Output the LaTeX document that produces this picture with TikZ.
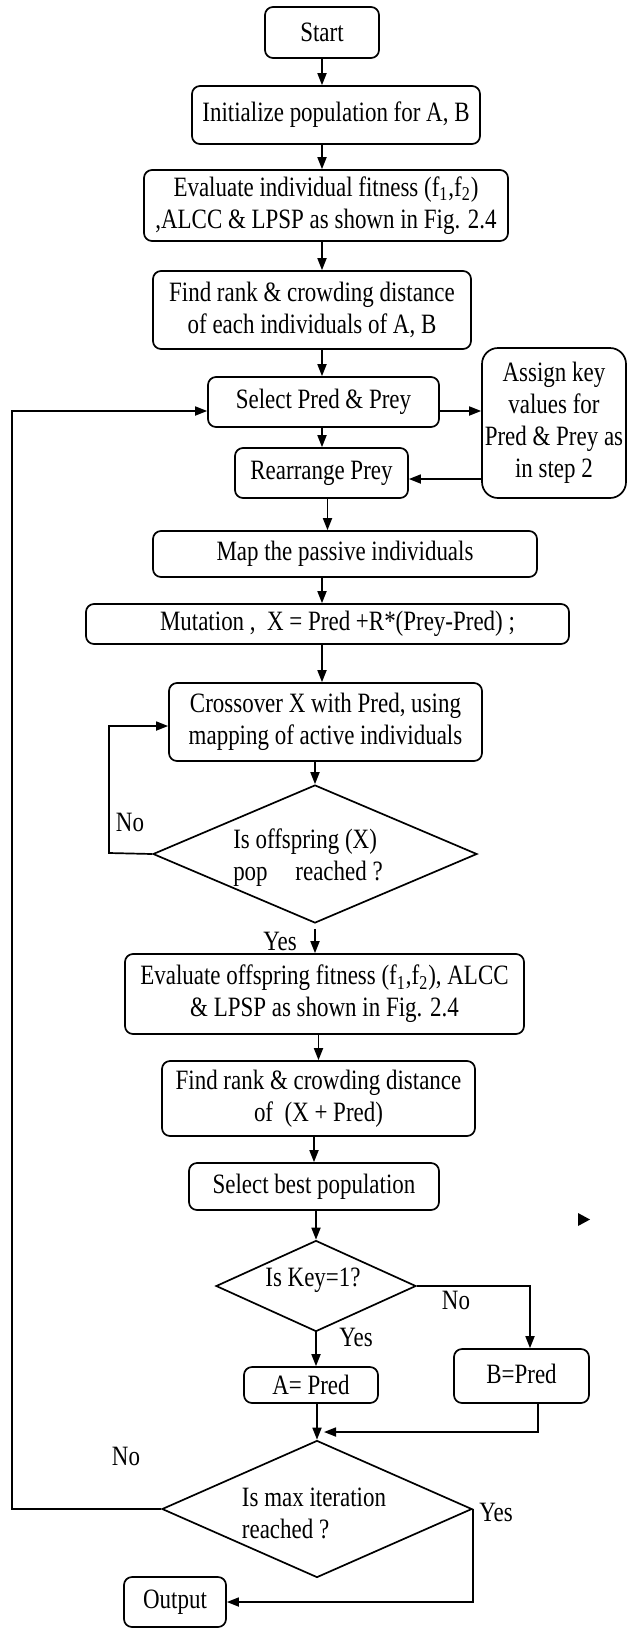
\documentclass[tikz,border=0pt]{standalone}
\usepackage{fontspec}
\setmainfont{Liberation Serif}[FakeStretch=0.82]
\usetikzlibrary{arrows.meta,shapes.geometric}
\newcommand\fs{\fontsize{14pt}{16pt}\selectfont}
\begin{document}
\begin{tikzpicture}[x=0.5pt,y=-0.5pt,
 box/.style={draw, rounded corners=4pt, line width=0.85pt, inner sep=0pt, font=\fs},
 dia/.style={draw, diamond, line width=0.85pt, inner sep=0pt},
 arr/.style={line width=0.85pt, -{Triangle[length=6pt,width=4.5pt]}},
 ln/.style={line width=0.85pt},
 txt/.style={font=\fs, inner sep=0pt}]
\useasboundingbox (0,0) rectangle (628,1628);

% boxes
\node[box, minimum width=57pt, minimum height=25.5pt] (start) at (322,32.5) {Start};
\node[box, minimum width=144pt, minimum height=29pt] (init) at (336,115) {\raisebox{3.5pt}{Initialize population for A, B}};
\node[box, align=center, minimum width=182pt, minimum height=35.5pt] (eval) at (326,205.5) {Evaluate individual fitness (f\textsubscript{1},f\textsubscript{2})\\,ALCC \& LPSP as shown in Fig. 2.4};
\node[box, align=center, minimum width=159pt, minimum height=39pt] (find1) at (312,310) {Find rank \& crowding distance\\of each individuals of A, B};
\node[box, minimum width=115.5pt, minimum height=25pt] (select) at (323.5,402) {Select Pred \& Prey\hspace{13pt}};
\node[box, align=center, minimum width=72pt, minimum height=75pt, rounded corners=8pt] (assign) at (554,423) {Assign key\\values for\\Pred \& Prey as\\in step 2};
\node[box, minimum width=86.5pt, minimum height=25pt] (rearr) at (321.5,473) {Rearrange Prey};
\node[box, minimum width=192pt, minimum height=23pt] (map) at (345,554) {Map the passive individuals};
\node[box, minimum width=241.5pt, minimum height=20pt] (mut) at (327.5,624) {\hspace{10pt}Mutation ,~ X = Pred +R*(Prey-Pred) ;};
\node[box, align=center, minimum width=156.5pt, minimum height=39pt] (cross) at (325.5,722) {Crossover X with Pred, using\\mapping of active individuals};
\node[dia, minimum width=162pt, minimum height=69pt] (dia1) at (315,854) {};
\node[txt, align=left] at (308,858) {Is offspring (X)\\pop\hspace{11pt} reached ?};
\node[box, align=center, minimum width=199.5pt, minimum height=40pt] (evalo) at (324.5,994) {Evaluate offspring fitness (f\textsubscript{1},f\textsubscript{2}), ALCC\\\& LPSP as shown in Fig. 2.4};
\node[box, align=center, minimum width=156.5pt, minimum height=37.5pt] (find2) at (318.5,1098.5) {Find rank \& crowding distance\\of~ (X + Pred)};
\node[box, minimum width=125pt, minimum height=23.5pt] (best) at (314,1186.5) {Select best population};
\node[dia, minimum width=100pt, minimum height=45.5pt] (dia2) at (316,1286) {};
\node[txt] at (313,1280) {Is Key=1?};
\node[box, minimum width=67pt, minimum height=18pt] (apred) at (311,1385) {A= Pred};
\node[box, minimum width=67.5pt, minimum height=27pt] (bpred) at (521.5,1376) {\raisebox{2pt}{B=Pred}};
\node[dia, minimum width=155pt, minimum height=68.5pt] (dia3) at (317,1509) {};
\node[txt, align=left] at (314,1513) {Is max iteration\\reached ?};
\node[box, minimum width=51pt, minimum height=25pt] (output) at (175,1602) {\raisebox{2.5pt}{Output}};

% labels
\node[txt] (l1) at (130,822) {No};
\node[txt] (l2) at (280,941) {Yes};
\node[txt] (l3) at (356,1337) {Yes};
\node[txt] (l4) at (456,1300) {No};
\node[txt] (l5) at (126,1456) {No};
\node[txt] (l6) at (496,1512) {Yes};

% helper coordinates
\coordinate (n1) at (109,853);
\coordinate (nb) at (530,1286);
\coordinate (mb) at (538,1432);
\coordinate (mbe) at (324,1432);
\coordinate (lp) at (12,1509);

% connectors
\draw[arr] (start.south) -- (start.south |- init.north);
\draw[arr] (init.south -| start.south) -- (eval.north -| start.south);
\draw[arr] (eval.south -| start.south) -- (find1.north -| start.south);
\draw[arr] (find1.south -| start.south) -- (select.north -| start.south);
\draw[arr] ([yshift=-4.5pt]select.east) -- ([yshift=-4.5pt]select.east -| assign.west);
\draw[arr] (select.south -| start.south) -- (rearr.north -| start.south);
\draw[arr] ([yshift=-3pt]rearr.east -| assign.west) -- ([yshift=-3pt]rearr.east);
\draw[arr] (rearr.south -| mut.north) -- (map.north -| mut.north);
\draw[arr] (map.south -| start.south) -- (mut.north -| start.south);
\draw[arr] (mut.south -| start.south) -- (cross.north -| start.south);
\draw[arr] (cross.south -| dia1.north) -- (dia1.north);
\draw[arr] (dia1.west) -- (n1) |- ([yshift=-2pt]cross.west);
\draw[arr] ([yshift=-2.5pt]dia1.south) -- (dia1.south |- evalo.north);
\draw[arr] (evalo.south -| find2.north) -- (find2.north);
\draw[arr] (find2.south -| best.north) -- (best.north);
\draw[arr] (best.south -| dia2.north) -- (dia2.north);
\draw[arr] (dia2.south) -- (dia2.south |- apred.north);
\draw[arr] (dia2.east) -- (nb) -- (nb |- bpred.north);
\draw[arr] (apred.south -| dia3.north) -- (dia3.north);
\draw[arr] (bpred.south -| mb) -- (mb) -- (mbe);
\draw[arr] (dia3.west) -- (lp) |- ([yshift=-4.5pt]select.west);
\draw[arr] (dia3.east) |- (output.east);

% stray arrow tip
\fill (578,1213) -- (590,1219.5) -- (578,1226) -- cycle;
\end{tikzpicture}
\end{document}
